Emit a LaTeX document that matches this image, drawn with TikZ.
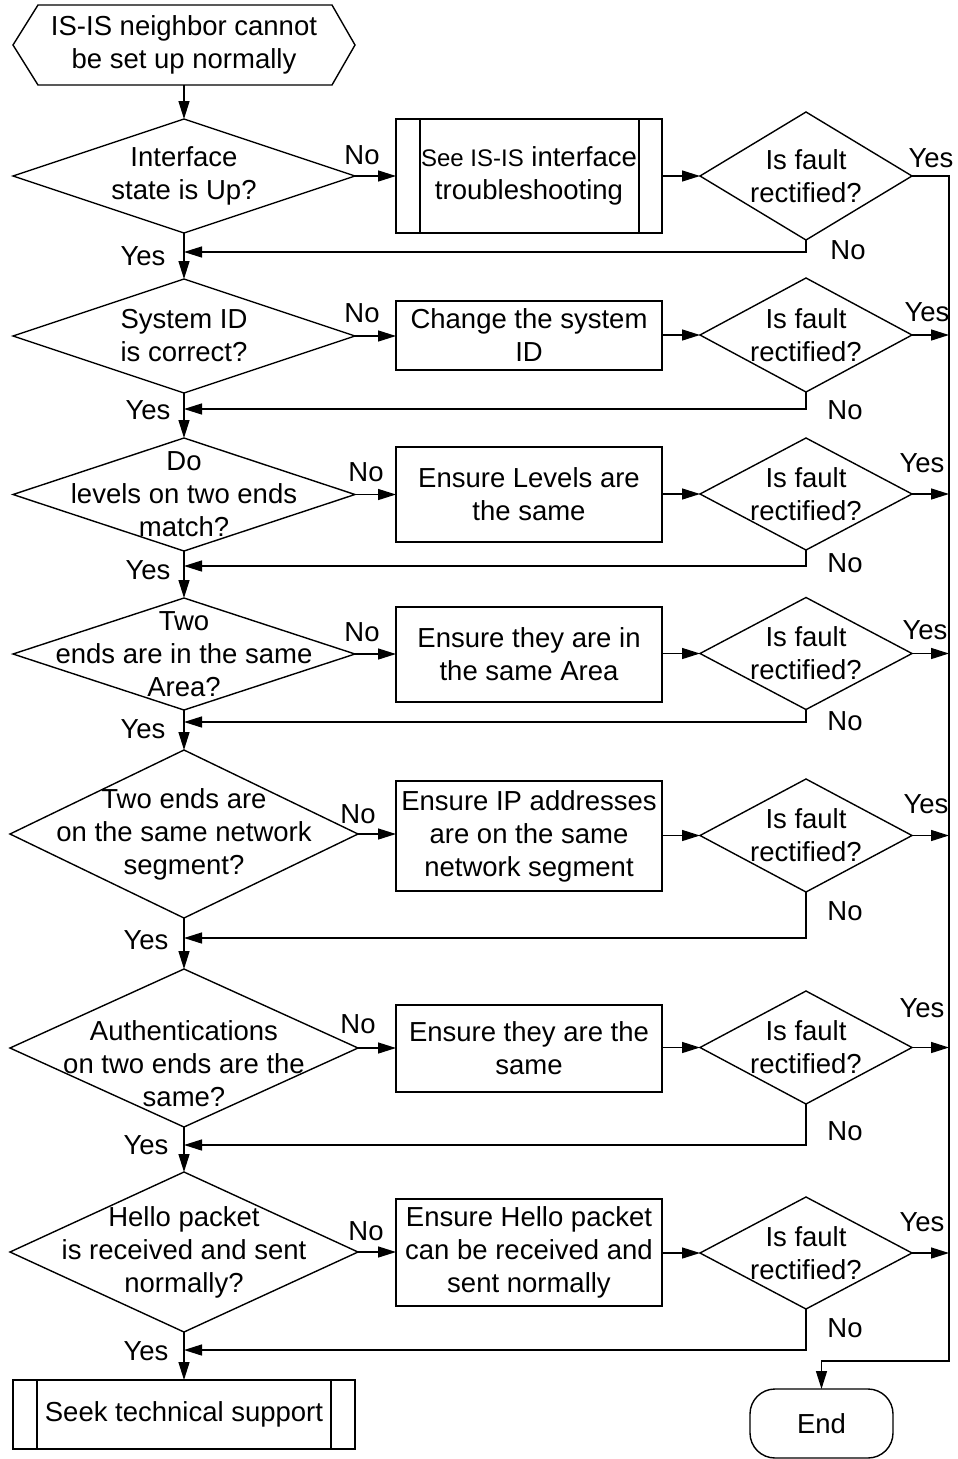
\documentclass[tikz,border=0pt]{standalone}
\usepackage{fontspec}
\setmainfont{Liberation Sans}
\usetikzlibrary{shapes.geometric,arrows.meta}
\begin{document}
\begin{tikzpicture}[x=1pt,y=-1pt,
  every node/.style={font=\fontsize{27.5}{33}\selectfont, inner sep=0pt, outer sep=0pt, align=center},
  wire/.style={line width=1.4pt, line join=miter},
  arr/.style={wire, -{Triangle[length=18pt,width=11pt]}},
  decision/.style 2 args={draw, wire, diamond, minimum width=#1, minimum height=#2},
  procbox/.style={draw, wire, rectangle, minimum width=266pt},
  small/.style={font=\fontsize{24}{33}\selectfont}
]
\path[use as bounding box, fill=white] (0,0) rectangle (958,1459);

% start terminal (hexagon)
\node[minimum width=342pt, minimum height=80pt] (start) at (184,45) {IS-IS neighbor cannot\\be set up normally};
\draw[wire] (start.west) -- ([xshift=25pt]start.north west) -- ([xshift=-23pt]start.north east)
  -- (start.east) -- ([xshift=-23pt]start.south east) -- ([xshift=25pt]start.south west) -- cycle;

% ---------- check decisions on the main trunk ----------
\node[decision={342pt}{114pt}] (d1) at (184,176) {};
\node (t1) at (d1) {Interface\\state is Up?};
\node[decision={342pt}{114pt}] (d2) at (184,336) {};
\node (t2) at (d2) {System ID\\is correct?};
\node[decision={342pt}{113pt}] (d3) at (184,494.5) {};
\node (t3) at (d3) {Do\\levels on two ends\\match?};
\node[decision={342pt}{112pt}] (d4) at (184,654) {};
\node (t4) at (d4) {Two\\ends are in the same\\Area?};
\node[decision={348pt}{168pt}] (d5) at (184,834) {};
\node (t5) at (d5) {Two ends are\\on the same network\\segment?};
\node[decision={348pt}{158pt}] (d6) at (184,1048) {};
\node (t6) at (184,1064) {Authentications\\on two ends are the\\same?};
\node[decision={348pt}{160pt}] (d7) at (184,1252) {};
\node (t7) at (d7) {Hello packet\\is received and sent\\normally?};

% ---------- corrective actions ----------
\node[procbox, minimum height=114pt] (b1) at (529,176) {{\small\fontsize{24}{33}\selectfont See IS-IS} interface\\troubleshooting};
\draw[wire] ([xshift=24pt]b1.north west) -- ([xshift=24pt]b1.south west);
\draw[wire] ([xshift=-23pt]b1.north east) -- ([xshift=-23pt]b1.south east);
\node[procbox, minimum height=69pt] (b2) at (529,335.5) {Change the system\\ID};
\node[procbox, minimum height=95pt] (b3) at (529,494.5) {Ensure Levels are\\the same};
\node[procbox, minimum height=95pt] (b4) at (529,654.5) {Ensure they are in\\the same Area};
\node[procbox, minimum height=110pt] (b5) at (529,836) {Ensure IP addresses\\are on the same\\network segment};
\node[procbox, minimum height=87pt] (b6) at (529,1048.5) {Ensure they are the\\same};
\node[procbox, minimum height=107pt] (b7) at (529,1252.5) {Ensure Hello packet\\can be received and\\sent normally};

% ---------- fault rectified? ----------
\node[decision={212pt}{128pt}] (f1) at (806,176) {};
\node (ft1) at (f1) {Is fault\\rectified?};
\node[decision={212pt}{114pt}] (f2) at (806,335) {};
\node (ft2) at (f2) {Is fault\\rectified?};
\node[decision={212pt}{112pt}] (f3) at (806,494) {};
\node (ft3) at (f3) {Is fault\\rectified?};
\node[decision={212pt}{112pt}] (f4) at (806,653.5) {};
\node (ft4) at (f4) {Is fault\\rectified?};
\node[decision={212pt}{113pt}] (f5) at (806,835.5) {};
\node (ft5) at (f5) {Is fault\\rectified?};
\node[decision={212pt}{113pt}] (f6) at (806,1047.5) {};
\node (ft6) at (f6) {Is fault\\rectified?};
\node[decision={212pt}{112pt}] (f7) at (806,1253) {};
\node (ft7) at (f7) {Is fault\\rectified?};

% ---------- end points ----------
\node[procbox, minimum width=342pt, minimum height=69pt] (seek) at (184,1414.5) {Seek technical support};
\draw[wire] ([xshift=24pt]seek.north west) -- ([xshift=24pt]seek.south west);
\draw[wire] ([xshift=-24pt]seek.north east) -- ([xshift=-24pt]seek.south east);
\node[draw, wire, rounded corners=25pt, minimum width=143pt, minimum height=69pt] (end) at (821.5,1423.5) {End};

% ---------- trunk ----------
\draw[arr] (start.south) -- (d1.north);
\draw[arr] (d1.south) -- (d2.north);
\draw[arr] (d2.south) -- (d3.north);
\draw[arr] (d3.south) -- (d4.north);
\draw[arr] (d4.south) -- (d5.north);
\draw[arr] (d5.south) -- (d6.north);
\draw[arr] (d6.south) -- (d7.north);
\draw[arr] (d7.south) -- (seek.north);

% ---------- No branches ----------
\foreach \i in {1,...,7} {
  \draw[arr] (d\i.east) -- (d\i.east -| b\i.west);
  \draw[arr] (b\i.east |- f\i.west) -- (f\i.west);
}

% ---------- return lines into the trunk ----------
\coordinate (j1) at (184,252);
\coordinate (j2) at (184,409);
\coordinate (j3) at (184,566);
\coordinate (j4) at (184,722);
\coordinate (j5) at (184,938);
\coordinate (j6) at (184,1145);
\coordinate (j7) at (184,1350);
\foreach \i in {1,...,7} {
  \draw[arr] (f\i.south) |- (j\i);
}

% ---------- Yes rail to End ----------
\coordinate (railbot) at (949,1361);
\draw[arr] (f1.east) -| (railbot) -| (end.north);
\foreach \i in {2,...,7} {
  \draw[arr] (f\i.east) -- (f\i.east -| railbot);
}

% ---------- branch labels ----------
\node (nm1) at (362,155) {No};
\node (nm2) at (362,313) {No};
\node (nm3) at (366,472) {No};
\node (nm4) at (362,632) {No};
\node (nm5) at (358,814) {No};
\node (nm6) at (358,1024) {No};
\node (nm7) at (366,1231) {No};

\node (ym1) at (143,256) {Yes};
\node (ym2) at (148,410) {Yes};
\node (ym3) at (148,570) {Yes};
\node (ym4) at (143,729) {Yes};
\node (ym5) at (146,940) {Yes};
\node (ym6) at (146,1145) {Yes};
\node (ym7) at (146,1351) {Yes};

\node (yf1) at (931,158) {Yes};
\node (yf2) at (927,312) {Yes};
\node (yf3) at (922,463) {Yes};
\node (yf4) at (925,630) {Yes};
\node (yf5) at (926,804) {Yes};
\node (yf6) at (922,1008) {Yes};
\node (yf7) at (922,1222) {Yes};

\node (nf1) at (848,250) {No};
\node (nf2) at (845,410) {No};
\node (nf3) at (845,563) {No};
\node (nf4) at (845,721) {No};
\node (nf5) at (845,911) {No};
\node (nf6) at (845,1131) {No};
\node (nf7) at (845,1328) {No};
\end{tikzpicture}
\end{document}
